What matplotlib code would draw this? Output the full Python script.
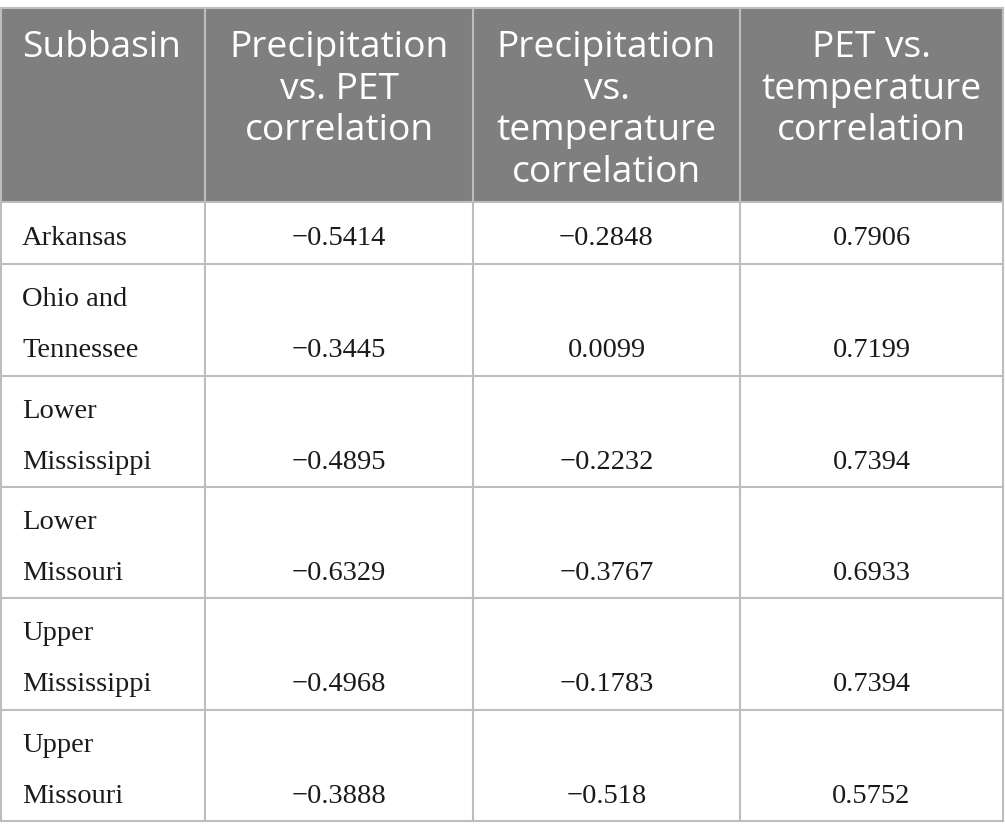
import matplotlib
matplotlib.use("Agg")
import matplotlib.pyplot as plt
from matplotlib.patches import Rectangle

# ---- data ----
headers = ["Subbasin",
           "Precipitation\nvs. PET\ncorrelation",
           "Precipitation\nvs.\ntemperature\ncorrelation",
           "PET vs.\ntemperature\ncorrelation"]
subbasins = ["Arkansas", "Ohio and\nTennessee", "Lower\nMississippi",
             "Lower\nMissouri", "Upper\nMississippi", "Upper\nMissouri"]
precip_vs_pet = ["\u22120.5414", "\u22120.3445", "\u22120.4895",
                 "\u22120.6329", "\u22120.4968", "\u22120.3888"]
precip_vs_temp = ["\u22120.2848", "0.0099", "\u22120.2232",
                  "\u22120.3767", "\u22120.1783", "\u22120.518"]
pet_vs_temp = ["0.7906", "0.7199", "0.7394", "0.6933", "0.7394", "0.5752"]

# ---- layout (pixel units) ----
W, H = 1005, 839
col_x = [1, 205, 473, 740, 1003]
row_y = [8, 202, 264, 376, 487, 598, 710, 821]
header_bg = "#7f7f7f"
grid_c = "#bdbdbd"
h_base0, h_step = 57, 41.7

fig = plt.figure(figsize=(W / 100, H / 100), dpi=100)
ax = fig.add_axes([0, 0, 1, 1])
ax.set_xlim(0, W)
ax.set_ylim(H, 0)
ax.axis("off")

# header background
ax.add_patch(Rectangle((col_x[0], row_y[0]), col_x[-1] - col_x[0],
                       row_y[1] - row_y[0], facecolor=header_bg,
                       edgecolor="none", zorder=0))

# grid lines
for x in col_x:
    ax.plot([x, x], [row_y[0], row_y[-1]], color=grid_c, lw=1.5, zorder=1)
for y in row_y:
    ax.plot([col_x[0], col_x[-1]], [y, y], color=grid_c, lw=1.5, zorder=1)

hfont = dict(family=["Open Sans", "DejaVu Sans"], fontsize=26.7, color="white")
bfont = dict(family=["Liberation Serif", "DejaVu Serif"], fontsize=20.5,
             color="#1a1a1a")

# header text
for i, h in enumerate(headers):
    for k, line in enumerate(h.split("\n")):
        y = h_base0 + k * h_step
        if i == 0:
            ax.text(col_x[0] + 21, y, line, ha="left", va="baseline", **hfont)
        else:
            cx = (col_x[i] + col_x[i + 1]) / 2
            ax.text(cx, y, line, ha="center", va="baseline", **hfont)

# body
cols = [precip_vs_pet, precip_vs_temp, pet_vs_temp]
for r, name in enumerate(subbasins):
    top = row_y[r + 1]
    parts = name.split("\n")
    if len(parts) == 1:
        base_y = top + 43
        ax.text(col_x[0] + 21, base_y, parts[0], ha="left", va="baseline", **bfont)
    else:
        ax.text(col_x[0] + 21, top + 42, parts[0], ha="left",
                va="baseline", **bfont)
        base_y = top + 93
        ax.text(col_x[0] + 21, base_y, parts[1], ha="left",
                va="baseline", **bfont)
    for c, vals in enumerate(cols):
        cx = (col_x[c + 1] + col_x[c + 2]) / 2
        ax.text(cx, base_y, vals[r], ha="center", va="baseline", **bfont)

fig.savefig("out.png", dpi=100, facecolor="white")
